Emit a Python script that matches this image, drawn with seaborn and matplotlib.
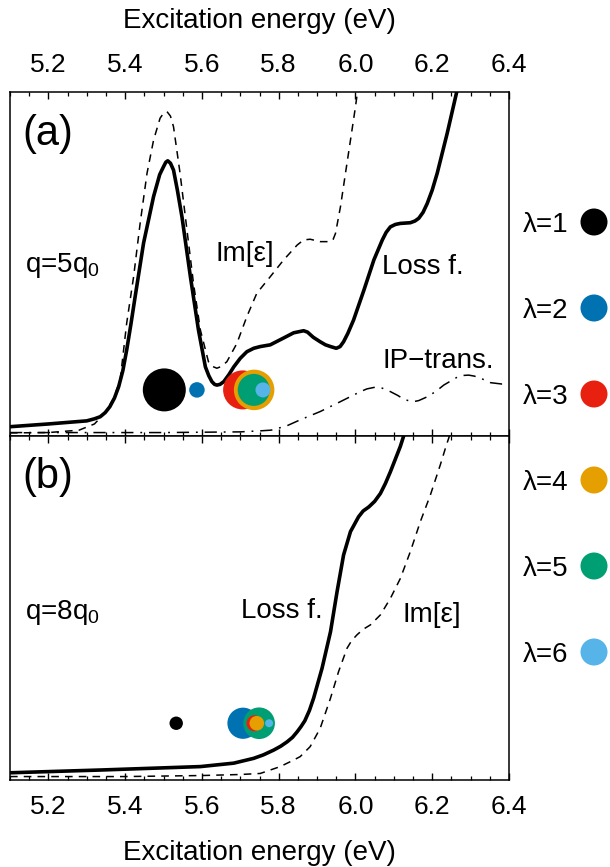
import numpy as np
import pandas as pd
import matplotlib
matplotlib.use("Agg")
import matplotlib.pyplot as plt
from matplotlib.ticker import MultipleLocator
import seaborn as sns

# ---------------- data ----------------
# panel (a) q = 5 q0
a_loss_x = [5.10, 5.20, 5.30, 5.32, 5.335, 5.348, 5.36, 5.372, 5.383, 5.394, 5.404, 5.415,
            5.426, 5.448, 5.474, 5.490, 5.500, 5.506, 5.511, 5.518, 5.526, 5.536, 5.548,
            5.570, 5.591, 5.609, 5.618, 5.626, 5.633, 5.639, 5.647, 5.657, 5.670, 5.683,
            5.700, 5.717, 5.735, 5.752, 5.778, 5.813, 5.839, 5.865, 5.875, 5.890, 5.908,
            5.922, 5.935, 5.950, 5.960, 5.969, 5.980, 5.995, 6.022, 6.048, 6.070, 6.080,
            6.091, 6.104, 6.117, 6.130, 6.143, 6.155, 6.165, 6.176, 6.187, 6.200, 6.213,
            6.239, 6.265, 6.29]
a_loss_y = [2.7, 3.5, 4.4, 5.0, 5.6, 6.8, 8.5, 11.0, 14.3, 19.0, 25.0, 32.5,
            40.5, 56.1, 69.6, 76.0, 78.3, 79.6, 80.0, 79.3, 77.3, 71.5, 63.7,
            46.3, 30.8, 20.1, 17.5, 15.8, 15.0, 14.8, 15.0, 15.8, 17.8, 20.1,
            22.6, 24.5, 25.5, 26.0, 26.5, 28.5, 30.0, 30.6, 30.2, 28.7, 27.4,
            26.5, 26.0, 25.5, 26.0, 27.4, 29.8, 33.7, 42.4, 51.2, 57.0, 59.2,
            60.8, 61.5, 61.8, 61.9, 62.0, 62.5, 63.3, 65.0, 67.6, 71.5, 76.4,
            88.0, 100.6, 112.0]

a_eps_x = [5.10, 5.20, 5.28, 5.32, 5.35, 5.37, 5.387, 5.404, 5.422, 5.439, 5.457, 5.474,
           5.491, 5.500, 5.509, 5.518, 5.526, 5.543, 5.561, 5.578, 5.596, 5.617, 5.628,
           5.639, 5.650, 5.665, 5.691, 5.717, 5.743, 5.778, 5.813, 5.848, 5.865, 5.882,
           5.908, 5.935, 5.942, 5.948, 5.961, 5.974, 5.987, 6.000, 6.006, 6.02]
a_eps_y = [0.9, 1.0, 1.7, 3.5, 7.0, 11.0, 16.3, 32.8, 46.3, 61.8, 76.4, 86.0,
           92.4, 93.8, 94.3, 93.0, 89.9, 76.4, 59.9, 44.4, 30.8, 21.6, 20.2,
           19.7, 20.2, 21.6, 26.9, 34.7, 41.5, 46.3, 51.2, 55.5, 57.0, 57.2,
           56.5, 56.5, 57.2, 58.9, 66.7, 76.4, 86.0, 95.7, 100.6, 108.0]

a_ip_x = [5.10, 5.50, 5.70, 5.752, 5.78, 5.82, 5.856, 5.908, 5.961, 6.013, 6.030, 6.052,
          6.070, 6.091, 6.110, 6.126, 6.140, 6.152, 6.165, 6.187, 6.210, 6.230, 6.265,
          6.280, 6.295, 6.310, 6.326, 6.352, 6.382, 6.40]
a_ip_y = [1.0, 1.0, 1.2, 1.5, 1.7, 2.9, 4.7, 7.1, 10.0, 12.9, 13.7, 14.2,
          13.9, 12.9, 11.8, 10.7, 10.2, 10.0, 10.3, 11.4, 13.0, 14.8, 17.1,
          17.6, 17.7, 17.4, 16.8, 15.5, 15.1, 15.1]

# panel (b) q = 8 q0
b_loss_x = [5.10, 5.335, 5.596, 5.683, 5.735, 5.760, 5.787, 5.805, 5.822, 5.836, 5.848,
            5.858, 5.868, 5.880, 5.891, 5.913, 5.935, 5.952, 5.969, 5.987, 6.008, 6.020,
            6.035, 6.050, 6.065, 6.078, 6.091, 6.117, 6.127, 6.14]
b_loss_y = [2.1, 2.9, 3.9, 4.9, 6.3, 7.3, 8.7, 9.8, 11.1, 12.4, 14.0,
            15.5, 17.2, 20.2, 23.8, 32.5, 43.1, 54.7, 65.4, 72.2, 76.5, 78.2,
            79.4, 81.0, 83.3, 86.2, 89.6, 97.0, 100.5, 105.0]

b_eps_x = [5.10, 5.40, 5.60, 5.70, 5.752, 5.804, 5.839, 5.856, 5.882, 5.908, 5.935,
           5.956, 5.978, 5.990, 6.004, 6.020, 6.039, 6.065, 6.091, 6.117, 6.143,
           6.169, 6.195, 6.221, 6.237, 6.26]
b_eps_y = [1.0, 1.0, 1.3, 1.6, 1.9, 3.9, 5.8, 6.8, 9.7, 15.0, 23.8,
           31.5, 38.3, 40.5, 42.2, 43.8, 45.1, 48.0, 52.8, 58.6, 66.4,
           75.1, 82.8, 91.6, 97.4, 105.0]

# excitations (lambda = 1..6): energy, marker height, circle diameter (px)
lam = [1, 2, 3, 4, 5, 6]
lam_colors = ["#000000", "#0072B2", "#E8200F", "#E69F00", "#009E73", "#56B4E9"]
a_exc_x = [5.502, 5.587, 5.706, 5.736, 5.735, 5.759]
a_exc_y = [13.4, 13.4, 13.4, 13.4, 13.4, 13.4]
a_exc_d = [43.0, 15.5, 39.0, 40.5, 32.0, 15.0]
a_order = [1, 2, 3, 4, 5, 6]
b_exc_x = [5.533, 5.707, 5.737, 5.743, 5.749, 5.775]
b_exc_y = [16.5, 16.5, 16.5, 16.5, 16.5, 16.5]
b_exc_d = [13.4, 31.2, 16.0, 14.6, 31.6, 8.0]
b_order = [1, 2, 5, 3, 4, 6]

xticks = [5.2, 5.4, 5.6, 5.8, 6.0, 6.2, 6.4]
xticklabels = ["5.2", "5.4", "5.6", "5.8", "6.0", "6.2", "6.4"]
xlabel = "Excitation energy (eV)"

# ---------------- style ----------------
sns.set_theme(style="white")
plt.rcParams["font.family"] = ["Liberation Sans", "DejaVu Sans"]
plt.rcParams["mathtext.fontset"] = "custom"
plt.rcParams["mathtext.rm"] = "Liberation Sans"
plt.rcParams["mathtext.default"] = "regular"
plt.rcParams["text.color"] = "black"
plt.rcParams["axes.labelcolor"] = "black"
plt.rcParams["xtick.color"] = "black"
plt.rcParams["ytick.color"] = "black"

W, H = 610, 867
fig = plt.figure(figsize=(W / 100, H / 100), dpi=100)
fig.patch.set_facecolor("white")

ax_a = fig.add_axes([10 / W, (H - 436) / H, 499 / W, 344 / H])
ax_b = fig.add_axes([10 / W, (H - 780) / H, 499 / W, 344 / H])

FS = 20
LW_SOLID = 2.6
LW_THIN = 1.1


def draw_line(ax, x, y, kind):
    df = pd.DataFrame({"x": x, "y": y})
    sns.lineplot(data=df, x="x", y="y", ax=ax, color="black",
                 lw=LW_SOLID if kind == "solid" else LW_THIN,
                 sort=False, estimator=None)
    ln = ax.lines[-1]
    ln.set_solid_joinstyle("round")
    ln.set_dash_joinstyle("round")
    if kind == "solid":
        ln.set_linestyle("-")
    elif kind == "dash":
        ln.set_linestyle((0, (5, 4)))
    else:
        ln.set_linestyle((0, (8, 4.5, 1.2, 4.5)))


def draw_exc(ax, xs, ys, ds, order):
    for l in order:
        i = lam.index(l)
        s = (ds[i] * 0.72) ** 2
        sns.scatterplot(x=[xs[i]], y=[ys[i]], ax=ax, s=s, color=lam_colors[i],
                        edgecolor="none", linewidth=0, legend=False, zorder=3)


draw_line(ax_a, a_ip_x, a_ip_y, "dashdot")
draw_line(ax_a, a_eps_x, a_eps_y, "dash")
draw_line(ax_a, a_loss_x, a_loss_y, "solid")
draw_exc(ax_a, a_exc_x, a_exc_y, a_exc_d, a_order)

draw_line(ax_b, b_eps_x, b_eps_y, "dash")
draw_line(ax_b, b_loss_x, b_loss_y, "solid")
draw_exc(ax_b, b_exc_x, b_exc_y, b_exc_d, b_order)

for ax in (ax_a, ax_b):
    ax.set_xlim(5.1, 6.4)
    ax.set_ylim(0, 100)
    ax.set_yticks([])
    ax.set_ylabel("")
    ax.set_xticks(xticks)
    ax.set_xticklabels(xticklabels)
    ax.xaxis.set_minor_locator(MultipleLocator(0.05))
    ax.tick_params(axis="x", which="both", direction="in", top=True, bottom=True,
                   colors="black", labelsize=FS - 1)
    ax.tick_params(axis="x", which="major", length=5, width=1.0, pad=11)
    ax.tick_params(axis="x", which="minor", length=2.6, width=0.9)
    for sp in ax.spines.values():
        sp.set_visible(True)
        sp.set_color("black")
        sp.set_linewidth(1.1)
    ax.set_facecolor("white")

ax_a.tick_params(axis="x", labeltop=True, labelbottom=False)
ax_a.xaxis.set_label_position("top")
ax_a.set_xlabel(xlabel, fontsize=FS, labelpad=18)
ax_b.tick_params(axis="x", labeltop=False, labelbottom=True)
ax_b.set_xlabel(xlabel, fontsize=FS, labelpad=15)

# annotations
ax_a.text(5.131, 87.8, "(a)", fontsize=30, ha="left", va="center")
ax_a.text(5.139, 47.8, "q=5q$_0$", fontsize=FS, ha="left", va="baseline")
ax_a.text(5.635, 51.0, "Im[ε]", fontsize=FS, ha="left", va="baseline")
ax_a.text(6.070, 47.0, "Loss f.", fontsize=FS, ha="left", va="baseline")
ax_a.text(6.070, 19.7, "IP\u2212trans.", fontsize=FS, ha="left", va="baseline")

ax_b.text(5.131, 88.2, "(b)", fontsize=30, ha="left", va="center")
ax_b.text(5.139, 46.8, "q=8q$_0$", fontsize=FS, ha="left", va="baseline")
ax_b.text(5.702, 47.2, "Loss f.", fontsize=FS, ha="left", va="baseline")
ax_b.text(6.122, 46.0, "Im[ε]", fontsize=FS, ha="left", va="baseline")

# legend column on the right
ax_leg = fig.add_axes([511 / W, (H - 695) / H, 99 / W, 516 / H])
ax_leg.axis("off")
leg_df = pd.DataFrame({"row": list(range(len(lam))), "lam": lam})
for r, l in zip(leg_df["row"], leg_df["lam"]):
    i = lam.index(l)
    sns.scatterplot(x=[83], y=[r], ax=ax_leg, s=(27 * 0.72) ** 2, color=lam_colors[i],
                    edgecolor="none", linewidth=0, legend=False)
    ax_leg.text(12, r, f"λ={l}", fontsize=FS, ha="left", va="center_baseline")
ax_leg.set_xlim(0, 99)
ax_leg.set_ylim(5.5, -0.5)

fig.savefig("out.png", dpi=100, facecolor="white")
